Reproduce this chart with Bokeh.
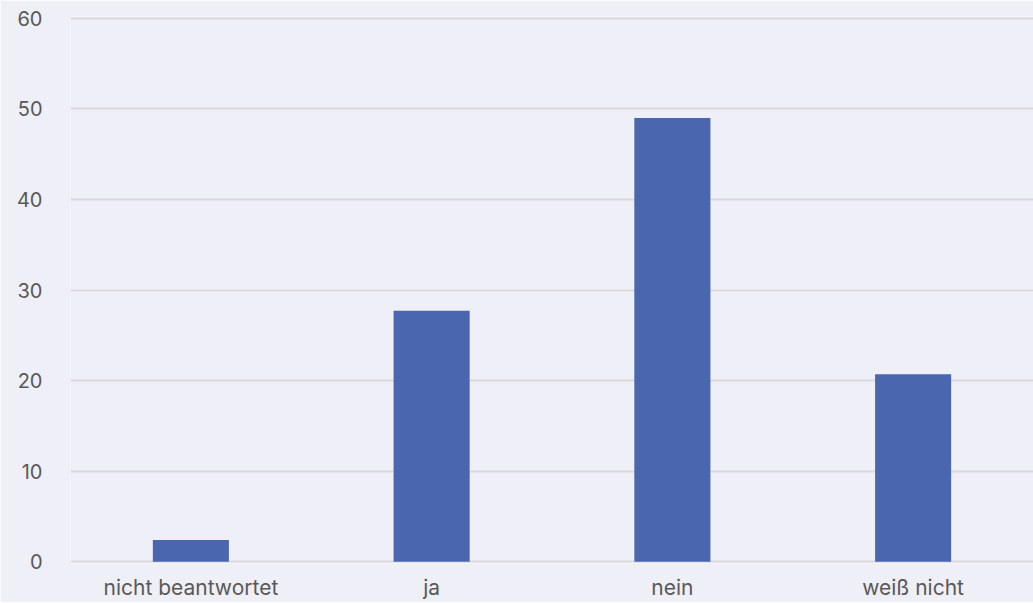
from bokeh.plotting import figure
from bokeh.models import Range1d, FactorRange, ColumnDataSource
from bokeh.embed import file_html
from bokeh.resources import INLINE

categories = ["nicht beantwortet", "ja", "nein", "weiß nicht"]
values = [2.4, 27.7, 49.0, 20.7]
y_ticks = [0, 10, 20, 30, 40, 50, 60]

BG = "#efeff7"
src = ColumnDataSource(dict(cat=categories, val=values))

p = figure(frame_width=963, frame_height=547, x_range=FactorRange(*categories, range_padding=0),
           y_range=Range1d(-0.2, 60.2), output_backend="svg", toolbar_location=None,
           min_border_left=70, min_border_right=0, min_border_top=16, min_border_bottom=0)
p.background_fill_color = BG
p.border_fill_color = BG
p.outline_line_color = None
p.x_range.range_padding = 0

p.vbar(x="cat", top="val", width=0.316, source=src, color="#4a66ae", line_color=None)

p.xgrid.grid_line_color = None
p.ygrid.grid_line_color = "#d9d9de"
p.ygrid.grid_line_width = 2
p.yaxis.ticker = y_ticks
p.yaxis.axis_line_color = None
p.yaxis.major_tick_line_color = None
p.yaxis.minor_tick_line_color = None
p.yaxis.major_label_standoff = 22
p.xaxis.axis_line_color = None
p.xaxis.major_tick_line_color = None
p.xaxis.major_label_standoff = 5
for ax in (p.xaxis, p.yaxis):
    ax.major_label_text_font = "Inter"
    ax.major_label_text_color = "#595959"
p.yaxis.major_label_text_font_size = "20px"
p.xaxis.major_label_text_font_size = "21px"

open("out.html", "w").write(file_html(p, INLINE))
